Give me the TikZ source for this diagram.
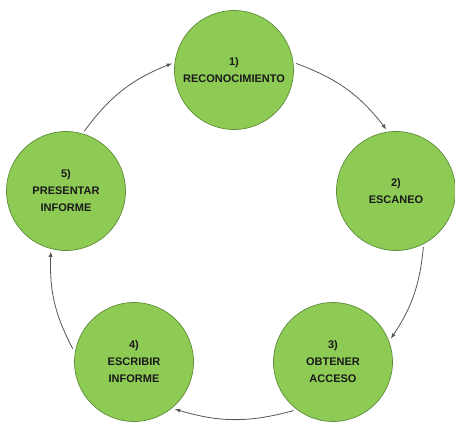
\documentclass[tikz,border=0pt]{standalone}
\usepackage{fontspec}
\setmainfont{Liberation Sans}
\usetikzlibrary{arrows}
\definecolor{FaseGreen}{HTML}{8DCB55}
\definecolor{FaseBorder}{HTML}{5E8C3A}
\definecolor{FlechaGray}{HTML}{555555}
\tikzset{
  fase/.style={circle,fill=FaseGreen,draw=FaseBorder,line width=0.7pt,
    minimum size=119pt,inner sep=0pt,outer sep=3pt,align=center,
    font=\fontsize{11}{17}\selectfont\bfseries,text=black!90},
  flecha/.style={->,>=latex,draw=FlechaGray,line width=0.8pt}
}

\begin{document}
\begin{tikzpicture}[x=1pt,y=1pt]
  \useasboundingbox (0,0) rectangle (455,-435);

  \node[fase] (reco) at (234,-70)  {1)\\RECONOCIMIENTO};
  \node[fase] (esca) at (396,-191) {2)\\ESCANEO};
  \node[fase] (acce) at (333,-362) {3)\\OBTENER\\ACCESO};
  \node[fase] (escr) at (134,-362) {4)\\ESCRIBIR\\INFORME};
  \node[fase] (pres) at (66,-191)  {5)\\PRESENTAR\\INFORME};

  \draw[flecha] (reco.6)    to[bend left=16] (esca.99);
  \draw[flecha] (esca.-64)  to[bend left=14] (acce.22);
  \draw[flecha] (acce.-129) to[bend left=16] (escr.-49);
  \draw[flecha] (escr.168)  to[bend left=15] (pres.-104);
  \draw[flecha] (pres.73)   to[bend left=16] (reco.174);

\end{tikzpicture}
\end{document}
